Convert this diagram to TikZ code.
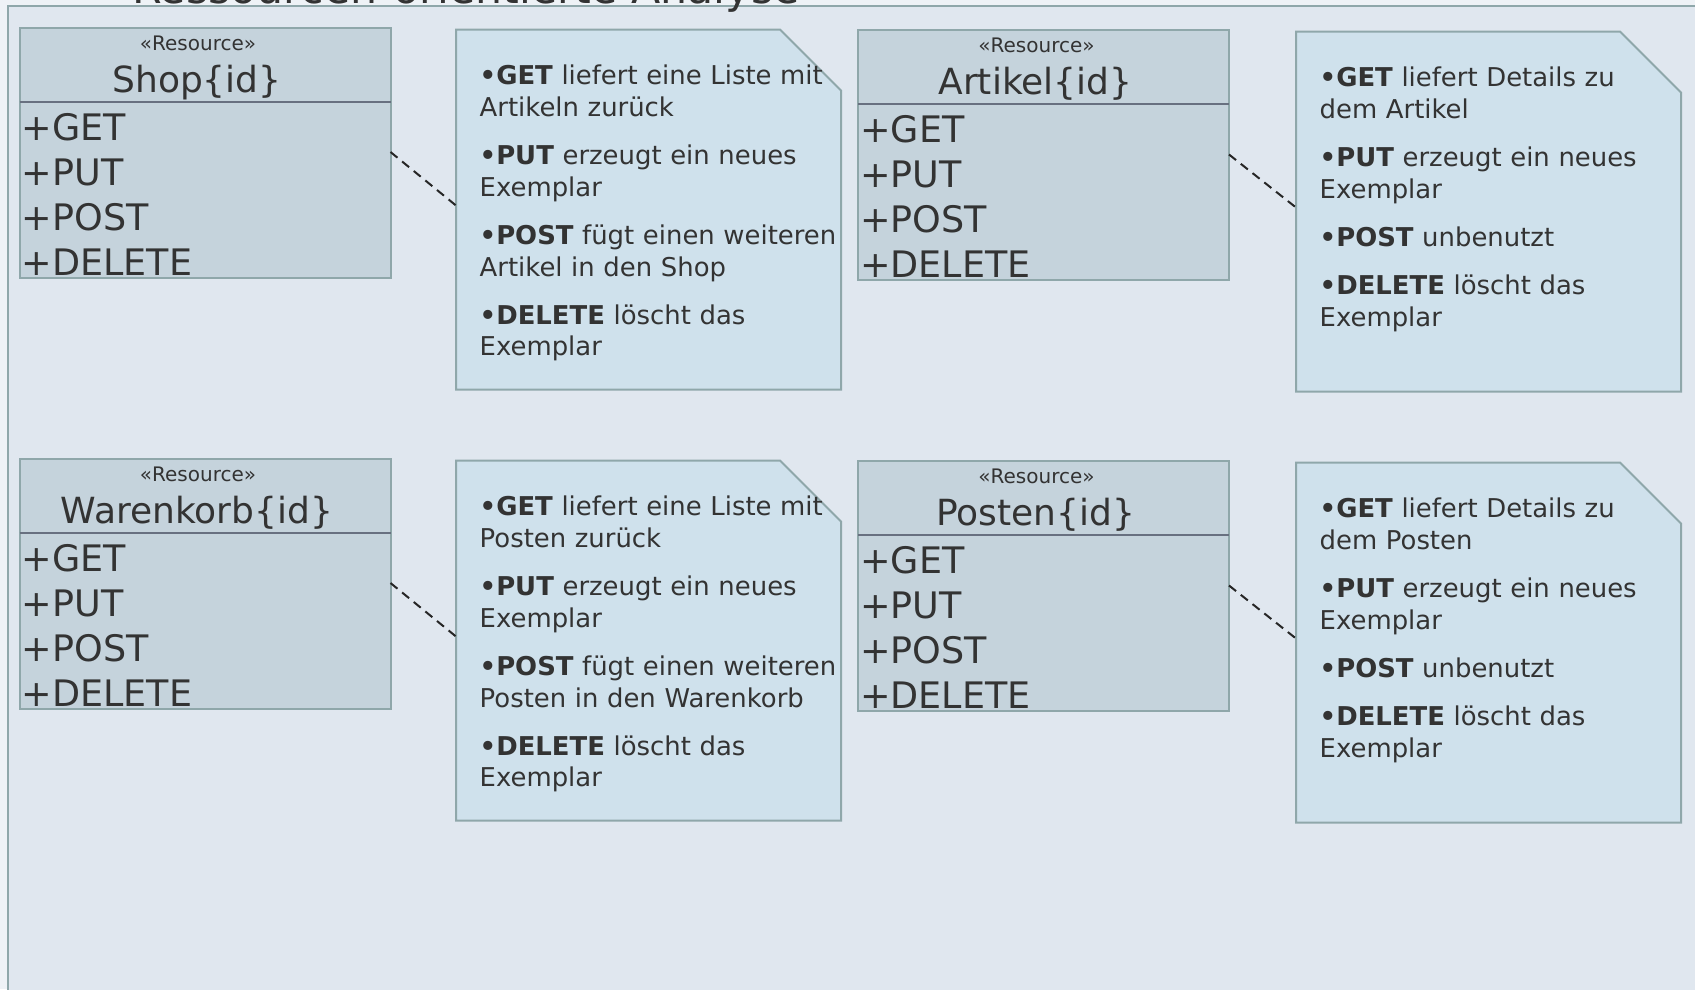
\documentclass[tikz,border=0pt]{standalone}
\usepackage{fontspec}
\setmainfont{DejaVu Sans}
\usetikzlibrary{calc}

\definecolor{canvasbg}{HTML}{EEF2F6}
\definecolor{framebg}{HTML}{E0E7EF}
\definecolor{classfill}{HTML}{C5D3DC}
\definecolor{notefill}{HTML}{CFE1EC}
\definecolor{edgecol}{HTML}{8FA7AA}
\definecolor{divcol}{HTML}{687080}
\definecolor{inkcol}{HTML}{333333}

\tikzset{
  classbox/.style={draw=edgecol, fill=classfill, line width=2pt, minimum width=371pt,
    minimum height=250pt, inner sep=0pt, outer sep=0pt, anchor=north west},
  notearea/.style={minimum width=385pt, minimum height=360pt, inner sep=0pt,
    outer sep=0pt, anchor=north west},
  noteshape/.style={draw=edgecol, fill=notefill, line width=2pt, line join=miter},
  divider/.style={draw=divcol, line width=2.2pt},
  stereo/.style={font=\fontsize{20}{22}\selectfont, text=inkcol, inner sep=0pt, anchor=base},
  classname/.style={font=\fontsize{36}{40}\selectfont, text=inkcol, inner sep=0pt, anchor=base},
  optext/.style={font=\fontsize{36.5}{45.3}\selectfont, text=inkcol, inner sep=0pt,
    anchor=base west, align=left, text width=340pt},
  notetext/.style={font=\fontsize{25.9}{31.7}\selectfont, text=inkcol, inner sep=0pt,
    anchor=base west, align=left, text width=380pt},
  notelink/.style={draw=black!85, line width=2pt, dash pattern=on 9pt off 6pt},
  frameline/.style={draw=edgecol, line width=2pt},
  titletext/.style={font=\fontsize{42.7}{48}\selectfont, text=inkcol, inner sep=0pt, anchor=base west},
}

% A resource class: name, x, y (top left), class title
\newcommand\ResClass[4]{%
  \node[classbox] (#1) at (#2,#3) {};
  \draw[divider] ([yshift=-74pt]#1.north west) -- ([yshift=-74pt]#1.north east);
  \node[stereo] (#1-st) at ($(#1.north)+(-7,22.5)$) {«Resource»};
  \node[classname] (#1-nm) at ($(#1.north)+(-8,64)$) {#4};
  \node[optext] (#1-ops) at ($(#1.north west)+(2,112)$) {+GET\\+PUT\\+POST\\+DELETE};
}

% A note with a cut corner: name, x, y (top left), text
\newcommand\ResNote[4]{%
  \node[notearea] (#1) at (#2,#3) {};
  \draw[noteshape] (#1.north west) -- ([xshift=-61pt]#1.north east)
    -- ([yshift=-61pt]#1.north east) -- (#1.south east) -- (#1.south west) -- cycle;
  \node[notetext] (#1-tx) at ($(#1.north west)+(23.5,55)$) {#4};
}

\begin{document}
\begin{tikzpicture}[x=1pt, y=-1pt]
  \useasboundingbox (0,0) rectangle (1695,989);
  \fill[canvasbg] (0,0) rectangle (1695,989);

  % package frame with its title
  \fill[framebg] (8,6) rectangle (1720,1010);
  \draw[frameline] (1720,6) -- (8,6) -- (8,1010);
  \node[titletext] (title) at (132,3.5) {Ressourcen-orientierte Analyse};

  % first row
  \ResClass{shop}{19.5}{28}{Shop\{id\}}
  \ResNote{note1}{456}{29.5}{%
    \textbf{•GET} liefert eine Liste mit\\Artikeln zurück\\[16.5pt]
    \textbf{•PUT} erzeugt ein neues\\Exemplar\\[16.5pt]
    \textbf{•POST} fügt einen weiteren\\Artikel in den Shop\\[16.5pt]
    \textbf{•DELETE} löscht das\\Exemplar}
  \ResClass{artikel}{858}{30}{Artikel\{id\}}
  \ResNote{note2}{1296}{31.5}{%
    \textbf{•GET} liefert Details zu\\dem Artikel\\[16.5pt]
    \textbf{•PUT} erzeugt ein neues\\Exemplar\\[16.5pt]
    \textbf{•POST} unbenutzt\\[16.5pt]
    \textbf{•DELETE} löscht das\\Exemplar}

  % second row
  \ResClass{warenkorb}{19.5}{459}{Warenkorb\{id\}}
  \ResNote{note3}{456}{460.5}{%
    \textbf{•GET} liefert eine Liste mit\\Posten zurück\\[16.5pt]
    \textbf{•PUT} erzeugt ein neues\\Exemplar\\[16.5pt]
    \textbf{•POST} fügt einen weiteren\\Posten in den Warenkorb\\[16.5pt]
    \textbf{•DELETE} löscht das\\Exemplar}
  \ResClass{posten}{858}{461}{Posten\{id\}}
  \ResNote{note4}{1296}{462.5}{%
    \textbf{•GET} liefert Details zu\\dem Posten\\[16.5pt]
    \textbf{•PUT} erzeugt ein neues\\Exemplar\\[16.5pt]
    \textbf{•POST} unbenutzt\\[16.5pt]
    \textbf{•DELETE} löscht das\\Exemplar}

  % note attachments
  \draw[notelink] ([yshift=-124pt]shop.north east) -- ([yshift=-176pt]note1.north west);
  \draw[notelink] ([yshift=-124.5pt]artikel.north east) -- ([yshift=-176pt]note2.north west);
  \draw[notelink] ([yshift=-124pt]warenkorb.north east) -- ([yshift=-176pt]note3.north west);
  \draw[notelink] ([yshift=-124.5pt]posten.north east) -- ([yshift=-176pt]note4.north west);
\end{tikzpicture}
\end{document}
